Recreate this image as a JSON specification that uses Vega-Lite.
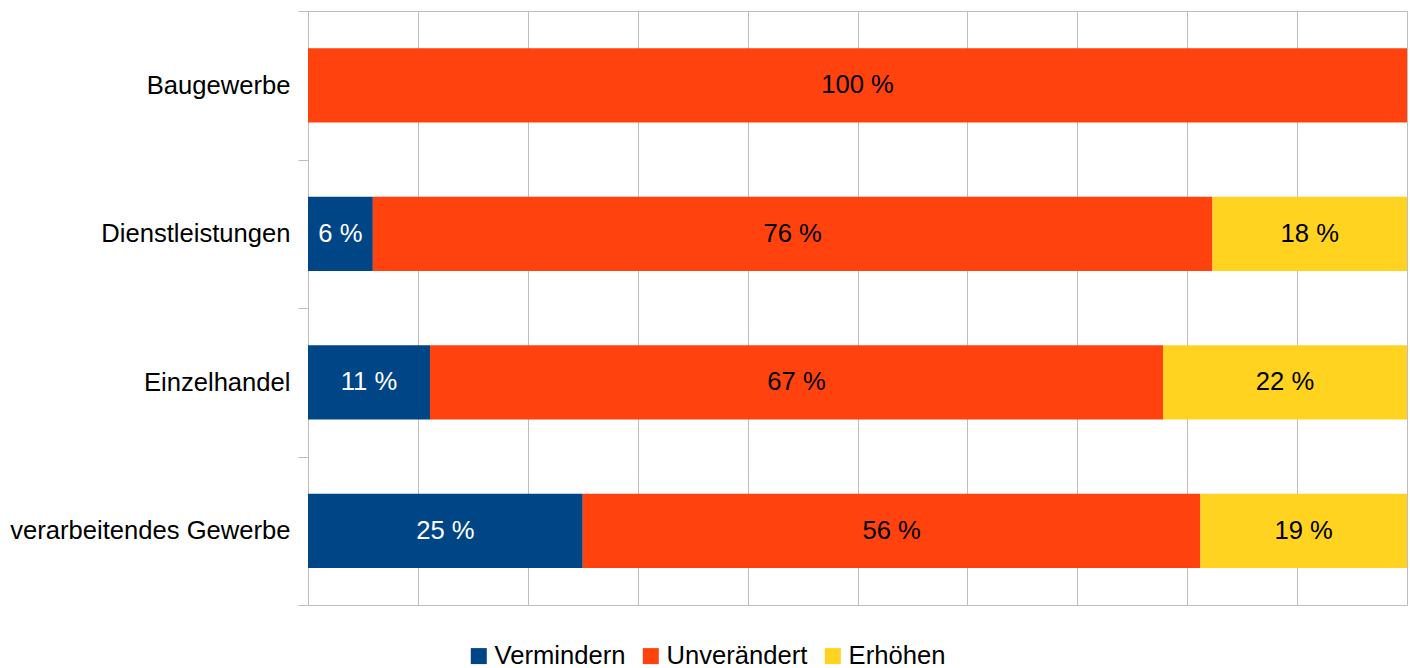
{
  "$schema": "https://vega.github.io/schema/vega-lite/v6.json",
  "autosize": {"type": "none"},
  "padding": {"left": 308, "top": 11, "right": 3, "bottom": 63},
  "width": 1099,
  "height": 594,
  "background": "white",
  "config": {
    "font": "Liberation Sans",
    "view": {"stroke": "#bebebe", "strokeWidth": 1}
  },
  "data": {
    "values": [
      {"branche": "Baugewerbe", "kat": "Unverändert", "ord": 2, "wert": 100, "label": "100 %"},
      {"branche": "Dienstleistungen", "kat": "Vermindern", "ord": 1, "wert": 5.9, "label": "6 %"},
      {"branche": "Dienstleistungen", "kat": "Unverändert", "ord": 2, "wert": 76.4, "label": "76 %"},
      {"branche": "Dienstleistungen", "kat": "Erhöhen", "ord": 3, "wert": 17.7, "label": "18 %"},
      {"branche": "Einzelhandel", "kat": "Vermindern", "ord": 1, "wert": 11.1, "label": "11 %"},
      {"branche": "Einzelhandel", "kat": "Unverändert", "ord": 2, "wert": 66.7, "label": "67 %"},
      {"branche": "Einzelhandel", "kat": "Erhöhen", "ord": 3, "wert": 22.2, "label": "22 %"},
      {"branche": "verarbeitendes Gewerbe", "kat": "Vermindern", "ord": 1, "wert": 25.0, "label": "25 %"},
      {"branche": "verarbeitendes Gewerbe", "kat": "Unverändert", "ord": 2, "wert": 56.2, "label": "56 %"},
      {"branche": "verarbeitendes Gewerbe", "kat": "Erhöhen", "ord": 3, "wert": 18.8, "label": "19 %"}
    ]
  },
  "encoding": {
    "y": {
      "field": "branche",
      "type": "nominal",
      "sort": ["Baugewerbe", "Dienstleistungen", "Einzelhandel", "verarbeitendes Gewerbe"],
      "scale": {"paddingInner": 0, "paddingOuter": 0},
      "axis": {
        "title": null,
        "domain": false,
        "ticks": true,
        "tickBand": "extent",
        "tickSize": 10,
        "tickColor": "#bebebe",
        "tickWidth": 1,
        "labelFontSize": 25.6,
        "labelColor": "#000000",
        "labelPadding": 8,
        "labelLimit": 400,
        "grid": false
      }
    },
    "x": {
      "field": "wert",
      "type": "quantitative",
      "stack": "zero",
      "scale": {"domain": [0, 100], "nice": false},
      "axis": {
        "title": null,
        "values": [0, 10, 20, 30, 40, 50, 60, 70, 80, 90, 100],
        "labels": false,
        "ticks": false,
        "domain": false,
        "grid": true,
        "gridColor": "#bebebe",
        "gridWidth": 1
      }
    },
    "order": {"field": "ord", "type": "quantitative"}
  },
  "layer": [
    {
      "mark": {"type": "bar", "height": {"band": 0.5}},
      "encoding": {
        "color": {
          "field": "kat",
          "type": "nominal",
          "scale": {
            "domain": ["Vermindern", "Unverändert", "Erhöhen"],
            "range": ["#004586", "#ff420e", "#ffd320"]
          },
          "legend": {
            "title": null,
            "orient": "none",
            "direction": "horizontal",
            "legendX": 158,
            "legendY": 632,
            "symbolType": "square",
            "symbolSize": 256,
            "symbolStrokeWidth": 0,
            "labelFontSize": 25.6,
            "labelColor": "#000000",
            "labelOffset": 3,
            "columnPadding": 12,
            "labelLimit": 300
          }
        }
      }
    },
    {
      "mark": {"type": "text", "fontSize": 25.6, "align": "center", "baseline": "middle"},
      "encoding": {
        "x": {"field": "wert", "type": "quantitative", "stack": "zero", "bandPosition": 0.5},
        "text": {"field": "label", "type": "nominal"},
        "color": {
          "condition": {"test": "datum.kat === 'Vermindern'", "value": "#ffffff"},
          "value": "#000000"
        }
      }
    }
  ]
}
